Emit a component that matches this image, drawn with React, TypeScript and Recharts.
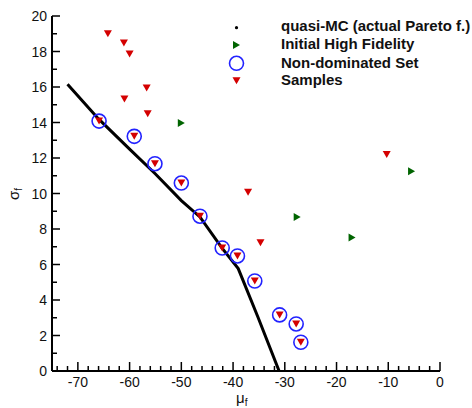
import React from 'react';
import { ScatterChart, Scatter, XAxis, YAxis, Legend } from 'recharts';

const frontX = [-72.0, -66.0, -60.0, -55.0, -50.0, -46.4, -42.2, -39.0, -35.2, -31.1];
const frontY = [16.15, 14.2, 12.5, 11.1, 9.6, 8.68, 6.95, 5.77, 3.04, 0.0];

const initialX = [-50.0, -5.5, -27.6, -17.0];
const initialY = [13.97, 11.25, 8.68, 7.52];

const nondomX = [-65.9, -59.1, -55.1, -50.0, -46.4, -42.1, -39.15, -35.8, -31.0, -27.8, -26.9];
const nondomY = [14.08, 13.22, 11.68, 10.59, 8.72, 6.93, 6.48, 5.07, 3.16, 2.65, 1.62];

const samplesX = [-64.2, -61.1, -60.0, -56.7, -61.0, -56.5, -65.9, -59.1, -55.1, -50.0, -46.4, -42.1, -39.15, -35.8, -31.0, -27.8, -26.9, -37.1, -34.7, -10.3];
const samplesY = [19.0, 18.48, 17.86, 15.94, 15.32, 14.5, 14.08, 13.22, 11.68, 10.59, 8.72, 6.93, 6.48, 5.07, 3.16, 2.65, 1.62, 10.07, 7.23, 12.2];

const legendLabels = ['quasi-MC (actual Pareto f.)', 'Initial High Fidelity', 'Non-dominated Set', 'Samples'];

const xTicks: number[] = [];
for (let v = -74; v <= 0; v += 2) xTicks.push(v);
const yTicks: number[] = [];
for (let v = 0; v <= 20; v += 1) yTicks.push(v);

const zip = (xs: number[], ys: number[]) => xs.map((x, i) => ({ x, y: ys[i] }));
const frontData = zip(frontX, frontY);
const initialData = zip(initialX, initialY);
const nondomData = zip(nondomX, nondomY);
const samplesData = zip(samplesX, samplesY);

const FONT = '"Liberation Sans", Arial, Helvetica, sans-serif';
const RED = '#d40000';
const GREEN = '#006400';
const BLUE = '#2222ff';

const XTick = (props: any) => {
  const { x, y, payload } = props;
  const v = payload.value;
  const major = Math.abs(v) % 10 === 0;
  return (
    <g>
      <line x1={x} x2={x} y1={y} y2={y - (major ? 9 : 5)} stroke="#000" strokeWidth={1.5} />
      {major && (
        <text x={x} y={y + 16} textAnchor="middle" fontSize={14} fontFamily={FONT} fill="#111">
          {v === 0 ? '0' : String(v)}
        </text>
      )}
    </g>
  );
};

const YTick = (props: any) => {
  const { x, y, payload } = props;
  const v = payload.value;
  const major = v % 2 === 0;
  return (
    <g>
      <line x1={x} x2={x + (major ? 8 : 5)} y1={y} y2={y} stroke="#000" strokeWidth={1.5} />
      {major && (
        <text x={x - 5} y={y + 5} textAnchor="end" fontSize={14} fontFamily={FONT} fill="#111">
          {String(v)}
        </text>
      )}
    </g>
  );
};

const XTitle = (props: any) => {
  const vb = props.viewBox || { x: 52, y: 371, width: 388 };
  const cx = vb.x + vb.width / 2;
  return (
    <text x={cx - 10} y={vb.y + 32} fontSize={15} fontFamily={FONT} fill="#111">
      μ<tspan dy={3} fontSize={10}>f</tspan>
    </text>
  );
};

const YTitle = () => (
  <text transform="translate(19,200) rotate(-90)" fontSize={15} fontFamily={FONT} fill="#111">
    σ<tspan dy={3} fontSize={10}>f</tspan>
  </text>
);

const TriDown = (props: any) => {
  const { cx, cy, fill } = props;
  if (cx == null || cy == null) return <g />;
  return <polygon points={`${cx - 4},${cy - 3.5} ${cx + 4},${cy - 3.5} ${cx},${cy + 3.5}`} fill={fill || RED} />;
};

const TriRight = (props: any) => {
  const { cx, cy, fill } = props;
  if (cx == null || cy == null) return <g />;
  return <polygon points={`${cx - 3.5},${cy - 4} ${cx - 3.5},${cy + 4} ${cx + 3.5},${cy}`} fill={fill || GREEN} />;
};

const Ring = (props: any) => {
  const { cx, cy } = props;
  if (cx == null || cy == null) return <g />;
  return <circle cx={cx} cy={cy} r={7} fill="none" stroke={BLUE} strokeWidth={1.6} />;
};

const NoShape = () => <g />;

const LegendContent = () => {
  const rows = [27.7, 45, 63.3, 80.7].map((v) => v - 18);
  const textY = [26, 44, 63, 80].map((v) => v - 18 + 5.3);
  return (
    <svg width={246} height={80} style={{ overflow: 'visible', display: 'block' }}>
      <circle cx={10.5} cy={rows[0]} r={1.6} fill="#000" />
      <TriRight cx={10.5} cy={rows[1]} fill={GREEN} />
      <Ring cx={10.5} cy={rows[2]} />
      <TriDown cx={10.5} cy={rows[3]} fill={RED} />
      {legendLabels.map((l, i) => (
        <text key={l} x={55} y={textY[i]} fontSize={15} fontWeight="bold" fontFamily={FONT} fill="#111">
          {l}
        </text>
      ))}
    </svg>
  );
};

export default function App() {
  return (
    <div style={{ position: 'absolute', left: 0, top: 0, width: 472, height: 408, background: '#fff' }}>
      <ScatterChart width={472} height={408} margin={{ top: 16, right: 32, left: 0, bottom: 0 }}>
        <XAxis
          type="number"
          dataKey="x"
          domain={[-75, 0]}
          ticks={xTicks}
          interval={0}
          allowDataOverflow
          height={37}
          tickSize={0}
          tickMargin={0}
          tickLine={false}
          axisLine={{ stroke: '#000', strokeWidth: 2 }}
          tick={<XTick />}
          label={<XTitle />}
        />
        <YAxis
          type="number"
          dataKey="y"
          domain={[0, 20]}
          ticks={yTicks}
          interval={0}
          allowDataOverflow
          width={52}
          tickSize={0}
          tickMargin={0}
          tickLine={false}
          axisLine={{ stroke: '#000', strokeWidth: 2 }}
          tick={<YTick />}
          label={<YTitle />}
        />
        <Legend
          layout="vertical"
          align="center"
          verticalAlign="middle"
          content={<LegendContent />}
          wrapperStyle={{ left: 226, top: 18, width: 246, height: 80 }}
        />
        <Scatter
          name={legendLabels[0]}
          data={frontData}
          line={{ stroke: '#000', strokeWidth: 3 }}
          shape={<NoShape />}
          isAnimationActive={false}
        />
        <Scatter name={legendLabels[1]} data={initialData} shape={<TriRight />} fill={GREEN} isAnimationActive={false} />
        <Scatter name={legendLabels[3]} data={samplesData} shape={<TriDown />} fill={RED} isAnimationActive={false} />
        <Scatter name={legendLabels[2]} data={nondomData} shape={<Ring />} isAnimationActive={false} />
      </ScatterChart>
    </div>
  );
}
